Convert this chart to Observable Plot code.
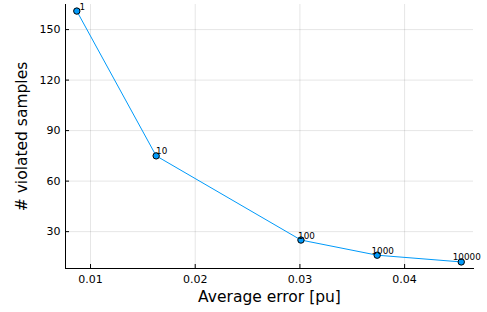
<!DOCTYPE html>
<html><head><meta charset="utf-8">
<script src="https://cdn.jsdelivr.net/npm/d3@7"></script>
<script src="https://cdn.jsdelivr.net/npm/@observablehq/plot@0.6"></script>
<style>body{margin:0;background:#fff}</style>
</head><body><div id="chart"></div>
<script>
const avgError = [0.00869, 0.01627, 0.0301, 0.03738, 0.04541];
const violated = [161, 75, 25, 16, 12];
const sampleLabels = ["1", "10", "100", "1000", "10000"];
const xTicks = [0.01, 0.02, 0.03, 0.04];
const yTicks = [30, 60, 90, 120, 150];
const xLabel = "Average error [pu]";
const yLabel = "# violated samples";

const data = avgError.map((x, i) => ({x, y: violated[i], label: sampleLabels[i]}));
const blue = "#009AFA";

const chart = Plot.plot({
  width: 487, height: 312,
  marginLeft: 65, marginRight: 14, marginTop: 4, marginBottom: 44,
  style: {fontFamily: "'DejaVu Sans', sans-serif", background: "#fff", color: "#000"},
  x: {domain: [0.00761, 0.04658]},
  y: {domain: [8.1, 164.9]},
  marks: [
    Plot.gridX(xTicks, {stroke: "#000", strokeOpacity: 0.1}),
    Plot.gridY(yTicks, {stroke: "#000", strokeOpacity: 0.1}),
    Plot.axisX(xTicks, {tickSize: 4, dy: -4, text: null, label: null, stroke: "#000"}),
    Plot.axisX(xTicks, {tickSize: 0, tickPadding: 7, fontSize: 11, tickFormat: d => d.toFixed(2), label: null, fill: "#000"}),
    Plot.axisY(yTicks, {tickSize: 4, dx: 4, text: null, label: null, stroke: "#000"}),
    Plot.axisY(yTicks, {tickSize: 0, tickPadding: 5, fontSize: 11, label: null, fill: "#000"}),
    Plot.frame({anchor: "left", stroke: "#000"}),
    Plot.frame({anchor: "bottom", stroke: "#000"}),
    Plot.line(data, {x: "x", y: "y", stroke: blue, strokeWidth: 1}),
    Plot.dot(data, {x: "x", y: "y", r: 3.2, fill: blue, stroke: "#000", strokeWidth: 1}),
    Plot.text(data, {x: "x", y: "y", text: "label", fontSize: 8.8, dx: 5.5, dy: -1.5, lineAnchor: "bottom", fill: "#000"}),
    Plot.text([xLabel], {frameAnchor: "bottom", dy: 29, lineAnchor: "middle", textAnchor: "middle", fontSize: 15.5, fill: "#000"}),
    Plot.text([yLabel], {frameAnchor: "left", rotate: -90, dx: -43, lineAnchor: "middle", textAnchor: "middle", fontSize: 15.5, fill: "#000"})
  ]
});
document.getElementById("chart").appendChild(chart);
</script>
</body></html>
